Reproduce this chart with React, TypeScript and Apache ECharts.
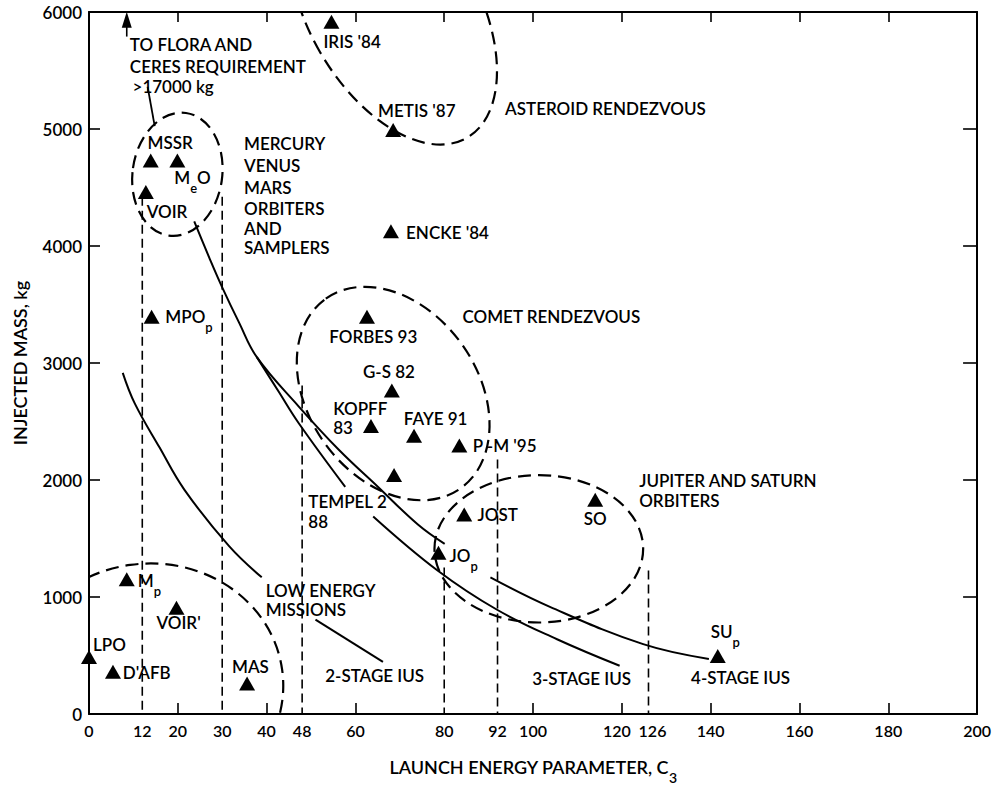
import React, { useEffect, useRef } from 'react';
import * as echarts from 'echarts';

const FONT = 'Lato, "DejaVu Sans", sans-serif';
const INK = '#000';
const WEIGHT = 600;

// ---- axes ----
const xLabelValues = [0, 12, 20, 30, 40, 48, 60, 80, 92, 100, 120, 126, 140, 160, 180, 200];
const xTickValues = [20, 40, 60, 100, 120, 140, 160, 180];
const topTickValues = [20, 40, 60, 80, 100, 120, 140, 160, 180];

// ---- missions (C3, injected mass kg) ----
const missionNames = ["IRIS '84", "METIS '87", "ENCKE '84", 'MSSR', 'MeO', 'VOIR', 'MPOp', 'FORBES 93', 'G-S 82', 'KOPFF 83', 'FAYE 91', "P-M '95", 'TEMPEL 2 88', 'JOST', 'SO', 'JOp', 'SUp', 'Mp', "VOIR'", 'LPO', "D'AFB", 'MAS'];
const missionC3 = [54.6, 68.5, 68.0, 13.9, 19.9, 12.8, 14.1, 62.6, 68.2, 63.5, 73.2, 83.4, 68.7, 84.5, 114.0, 78.7, 141.6, 8.5, 19.7, 0, 5.4, 35.6];
const missionMass = [5916, 4992, 4126, 4731, 4731, 4462, 3395, 3395, 2765, 2462, 2378, 2294, 2042, 1706, 1832, 1378, 496, 1151, 908, 487, 361, 260];

// ---- IUS performance curves (C3, kg) ----
const twoStageUpper = [[7.6, 2916], [10.3, 2655], [15.9, 2277], [21.5, 1916], [31.5, 1437], [38.9, 1168]];
const twoStageLower = [[51.0, 807], [66.2, 445]];
const threeStageUpper = [[37.8, 3050], [42.7, 2756], [47.2, 2487], [57.7, 1941]];
const threeStageLower = [[64.0, 1689], [78.5, 1227], [91.9, 891], [105.4, 639], [119.5, 412]];
const fourStageUpper = [[23.7, 4210], [27.1, 3899], [30.0, 3647], [33.8, 3345], [37.8, 3050], [47.2, 2630], [56.2, 2261], [65.1, 1941], [74.0, 1622], [80.1, 1454]];
const fourStageLower = [[90.4, 1168], [103.8, 916], [124.8, 597], [139.6, 471]];

// ---- dashed C3 requirement drops (C3, top kg) ----
const dropLines = [[12, 4420], [30, 4420], [48, 2807], [80, 1252], [92, 2176], [126, 1227]];

// ---- mission regions: centre C3, centre kg, half-width C3, half-height kg, tilt deg ----
const regionEllipses = [
  [68.5, 6017, 19.0, 1261, -30],   // asteroid rendezvous
  [19.9, 4613, 10.1, 529, 8],      // Mercury / Venus / Mars
  [68.5, 2739, 26.2, 723, 54.6],   // comet rendezvous
  [13.2, 218, 30.6, 1067, -8],     // low energy missions
  [101.3, 1412, 23.5, 630, 0],     // Jupiter and Saturn orbiters
];

// ---- leaders ----
const floraArrow = [[8.5, 5790], [8.5, 5933]];
const floraLeader = [[13.2, 5361], [14.8, 5025]];

// ---- text annotations (text, C3, kg) ----
const annotations: [string, number, number][] = [
  ["IRIS '84", 52.8, 5748],
  ["METIS '87", 65.1, 5160],
  ['ASTEROID RENDEZVOUS', 93.7, 5176],
  ["ENCKE '84", 71.4, 4118],
  ['TO FLORA AND', 9.2, 5723],
  ['CERES REQUIREMENT', 9.2, 5538],
  ['>17000 kg', 9.8, 5361],
  ['MSSR', 13.2, 4882],
  ['{n|M}{s|e}{n|O}', 19.2, 4588],
  ['VOIR', 13.0, 4294],
  ['MERCURY', 34.9, 4874],
  ['VENUS', 34.9, 4689],
  ['MARS', 34.9, 4504],
  ['ORBITERS', 34.9, 4319],
  ['AND', 34.9, 4151],
  ['SAMPLERS', 34.9, 3983],
  ['{n|MPO}{s|p}', 17.2, 3395],
  ['FORBES 93', 54.1, 3227],
  ['COMET RENDEZVOUS', 84.1, 3395],
  ['G-S 82', 61.7, 2924],
  ['KOPFF', 55.0, 2613],
  ['83', 55.0, 2445],
  ['FAYE 91', 70.9, 2529],
  ["P -M '95", 86.4, 2294],
  ['TEMPEL 2', 49.4, 1815],
  ['88', 49.4, 1647],
  ['JOST', 87.5, 1706],
  ['SO', 111.4, 1672],
  ['JUPITER AND SATURN', 123.9, 1992],
  ['ORBITERS', 123.9, 1824],
  ['{n|JO}{s|p}', 81.2, 1353],
  ['{n|SU}{s|p}', 140.0, 706],
  ['4-STAGE IUS', 135.6, 311],
  ['3-STAGE IUS', 99.8, 303],
  ['2-STAGE IUS', 53.2, 328],
  ['LOW ENERGY', 39.8, 1059],
  ['MISSIONS', 39.8, 891],
  ['{n|M}{s|p}', 11.0, 1143],
  ["VOIR'", 15.2, 782],
  ['LPO', 0.9, 597],
  ["D'AFB", 7.6, 353],
  ['MAS', 32.2, 403],
];

const richText = {
  n: { fontSize: 17, lineHeight: 34, fontFamily: FONT, fontWeight: WEIGHT, color: INK },
  s: { fontSize: 13, lineHeight: 12, fontFamily: FONT, fontWeight: WEIGHT, color: INK, verticalAlign: 'bottom' },
};

function curve(data: number[][]) {
  return {
    type: 'line',
    data,
    smooth: 0.4,
    symbol: 'none',
    silent: true,
    clip: true,
    lineStyle: { color: INK, width: 2 },
    z: 3,
  };
}

export default function App() {
  const ref = useRef<HTMLDivElement>(null);

  useEffect(() => {
    if (!ref.current) return;
    const chart = echarts.init(ref.current, null, { renderer: 'svg' });

    const series: any[] = [];

    series.push({
      type: 'custom',
      clip: true,
      silent: true,
      data: regionEllipses,
      encode: { x: 0, y: 1 },
      renderItem: (params: any, api: any) => {
        const c = api.coord([api.value(0), api.value(1)]);
        const s = api.size([api.value(2), api.value(3)]);
        const rot = (api.value(4) * Math.PI) / 180;
        return {
          type: 'ellipse',
          x: c[0],
          y: c[1],
          rotation: -rot,
          shape: { cx: 0, cy: 0, rx: s[0], ry: s[1] },
          style: { fill: 'none', stroke: INK, lineWidth: 2.2, lineDash: [13, 7] },
        };
      },
      z: 2,
    });

    dropLines.forEach((d) => {
      series.push({
        type: 'line',
        data: [[d[0], d[1]], [d[0], 0]],
        symbol: 'none',
        silent: true,
        lineStyle: { color: INK, width: 1.6, type: [9, 5] },
        z: 2,
      });
    });

    [twoStageUpper, twoStageLower, threeStageUpper, threeStageLower, fourStageUpper, fourStageLower].forEach((c) =>
      series.push(curve(c))
    );

    series.push({
      type: 'line',
      data: [
        { value: floraArrow[0], symbol: 'none' },
        { value: floraArrow[1], symbol: 'triangle', symbolSize: [10, 16] },
      ],
      silent: true,
      clip: false,
      lineStyle: { color: INK, width: 1.6 },
      itemStyle: { color: INK },
      z: 3,
    });
    series.push({
      type: 'line',
      data: floraLeader,
      symbol: 'none',
      silent: true,
      lineStyle: { color: INK, width: 1.8 },
      z: 3,
    });

    series.push({
      type: 'scatter',
      data: missionC3.map((c, i) => ({ value: [c, missionMass[i]], name: missionNames[i] })),
      symbol: 'triangle',
      symbolSize: [16, 14],
      itemStyle: { color: INK, opacity: 1 },
      silent: true,
      clip: false,
      z: 5,
    });

    series.push({
      type: 'scatter',
      data: annotations.map((a) => ({ value: [a[1], a[2]], name: a[0] })),
      symbolSize: 0,
      itemStyle: { color: 'rgba(0,0,0,0)', opacity: 1 },
      silent: true,
      clip: false,
      label: {
        show: true,
        position: 'right',
        distance: 0,
        formatter: (p: any) => p.name,
        fontSize: 17,
        fontWeight: WEIGHT,
        fontFamily: FONT,
        color: INK,
        rich: richText,
      },
      z: 6,
    });

    chart.setOption({
      animation: false,
      backgroundColor: '#fff',
      grid: { left: 89, right: 11, top: 12, bottom: 63, containLabel: false },
      xAxis: [
        {
          type: 'value',
          position: 'bottom',
          min: 0,
          max: 200,
          axisLine: { show: true, onZero: false, lineStyle: { color: INK, width: 2 } },
          axisTick: { show: true, inside: true, length: 11, customValues: xTickValues, lineStyle: { color: INK, width: 1.6 } },
          axisLabel: {
            customValues: xLabelValues,
            fontSize: 16,
            fontWeight: WEIGHT,
            fontFamily: FONT,
            color: INK,
            margin: 8,
            formatter: (v: number) => (v === 120 ? '{l|120}' : v === 126 ? '{r|126}' : String(v)),
            rich: {
              l: { fontSize: 16, fontWeight: WEIGHT, fontFamily: FONT, color: INK, padding: [0, 10, 0, 0] },
              r: { fontSize: 16, fontWeight: WEIGHT, fontFamily: FONT, color: INK, padding: [0, 0, 0, 8] },
            },
          },
          splitLine: { show: false },
          name: '{n|LAUNCH ENERGY PARAMETER, C}{s|3}',
          nameLocation: 'middle',
          nameGap: 36,
          nameTextStyle: {
            rich: {
              n: { fontSize: 18, lineHeight: 34, fontFamily: FONT, fontWeight: WEIGHT, color: INK },
              s: { fontSize: 14, lineHeight: 12, fontFamily: FONT, fontWeight: WEIGHT, color: INK, verticalAlign: 'bottom' },
            },
          },
        },
        {
          type: 'value',
          position: 'top',
          min: 0,
          max: 200,
          axisLine: { show: true, onZero: false, lineStyle: { color: INK, width: 2 } },
          axisTick: { show: true, inside: true, length: 10, customValues: topTickValues, lineStyle: { color: INK, width: 1.6 } },
          axisLabel: { show: false },
          splitLine: { show: false },
        },
      ],
      yAxis: [
        {
          type: 'value',
          position: 'left',
          min: 0,
          max: 6000,
          interval: 1000,
          axisLine: { show: true, onZero: false, lineStyle: { color: INK, width: 2 } },
          axisTick: { show: true, inside: true, length: 11, lineStyle: { color: INK, width: 1.6 } },
          axisLabel: { fontSize: 17, fontWeight: WEIGHT, fontFamily: FONT, color: INK, margin: 7, formatter: (v: number) => String(v) },
          splitLine: { show: false },
          name: 'INJECTED MASS, kg',
          nameLocation: 'middle',
          nameGap: 60,
          nameRotate: 90,
          nameTextStyle: { fontSize: 18, fontWeight: WEIGHT, fontFamily: FONT, color: INK },
        },
        {
          type: 'value',
          position: 'right',
          min: 0,
          max: 6000,
          interval: 1000,
          axisLine: { show: true, onZero: false, lineStyle: { color: INK, width: 2 } },
          axisTick: { show: true, inside: true, length: 14, lineStyle: { color: INK, width: 1.6 } },
          axisLabel: { show: false },
          splitLine: { show: false },
        },
      ],
      series,
    });

    return () => chart.dispose();
  }, []);

  return (
    <div
      ref={ref}
      style={{ position: 'absolute', left: 0, top: 0, width: 994, height: 789, background: '#fff' }}
    />
  );
}
